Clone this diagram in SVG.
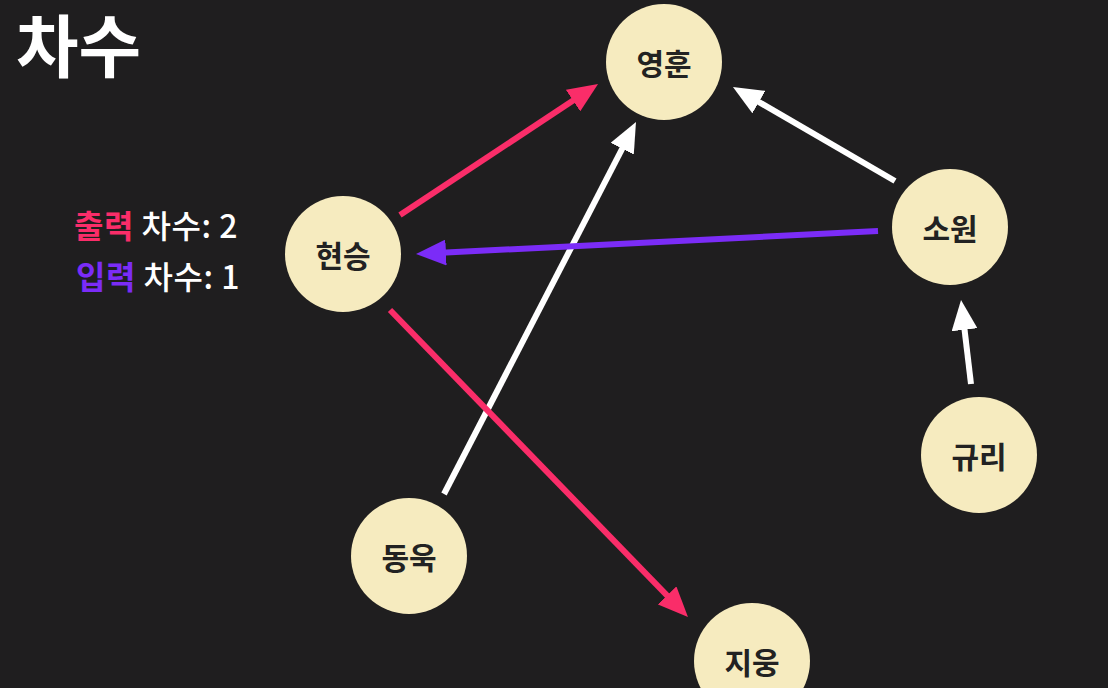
<svg xmlns="http://www.w3.org/2000/svg" width="1108" height="688" viewBox="0 0 1108 688">
<style>
.node{fill:#f6ebbf}
.lbl{font-family:"Noto Sans CJK KR","Noto Sans",sans-serif;font-weight:bold;font-size:30px;fill:#222;text-anchor:middle;dominant-baseline:central}
.edge{stroke-width:6;fill:none}
.leg{font-family:"Noto Sans CJK KR","Noto Sans",sans-serif;font-weight:500;font-size:32px;letter-spacing:0.5px}
</style>
<defs>
<marker id="aw" markerUnits="userSpaceOnUse" markerWidth="30" markerHeight="26" refX="20" refY="13" orient="auto"><path d="M0,0 L30,13 L0,26 z" fill="#ffffff"/></marker>
<marker id="ar" markerUnits="userSpaceOnUse" markerWidth="30" markerHeight="26" refX="20" refY="13" orient="auto"><path d="M0,0 L30,13 L0,26 z" fill="#fa2d69"/></marker>
<marker id="ap" markerUnits="userSpaceOnUse" markerWidth="30" markerHeight="26" refX="20" refY="13" orient="auto"><path d="M0,0 L30,13 L0,26 z" fill="#7b2cf7"/></marker>
</defs>
<rect width="1108" height="688" fill="#1f1e1f"/>
<text x="16" y="72" font-family="Noto Sans CJK KR,Noto Sans,sans-serif" font-weight="bold" font-size="68" fill="#ffffff">차수</text>
<text x="74" y="238" class="leg"><tspan fill="#fa2d69" font-weight="bold">출력</tspan><tspan fill="#ffffff"> 차수: 2</tspan></text>
<text x="76" y="289" class="leg"><tspan fill="#7b2cf7" font-weight="bold">입력</tspan><tspan fill="#ffffff"> 차수: 1</tspan></text>
<g id="connectors">
<line class="edge" x1="400" y1="215" x2="589.7" y2="89.5" stroke="#fa2d69" marker-end="url(#ar)"/>
<line class="edge" x1="444" y1="494" x2="631.4" y2="130.9" stroke="#ffffff" marker-end="url(#aw)"/>
<line class="edge" x1="895" y1="181" x2="741.6" y2="92" stroke="#ffffff" marker-end="url(#aw)"/>
<line class="edge" x1="878" y1="231" x2="426" y2="253.5" stroke="#7b2cf7" marker-end="url(#ap)"/>
<line class="edge" x1="390" y1="310" x2="681" y2="609.8" stroke="#fa2d69" marker-end="url(#ar)"/>
<line class="edge" x1="971" y1="384" x2="962.2" y2="309.9" stroke="#ffffff" marker-end="url(#aw)"/>
</g>
<g id="n-younghoon"><circle class="node" cx="664" cy="62" r="58"/><text class="lbl" x="664" y="62">영훈</text></g>
<g id="n-hyunseung"><circle class="node" cx="343" cy="254" r="58"/><text class="lbl" x="343" y="254">현승</text></g>
<g id="n-sowon"><circle class="node" cx="950" cy="227" r="58"/><text class="lbl" x="950" y="227">소원</text></g>
<g id="n-gyuri"><circle class="node" cx="979" cy="455" r="58"/><text class="lbl" x="979" y="455">규리</text></g>
<g id="n-donguk"><circle class="node" cx="409" cy="556" r="58"/><text class="lbl" x="409" y="556">동욱</text></g>
<g id="n-jiwoong"><circle class="node" cx="752" cy="661" r="58"/><text class="lbl" x="752" y="661">지웅</text></g>
</svg>
